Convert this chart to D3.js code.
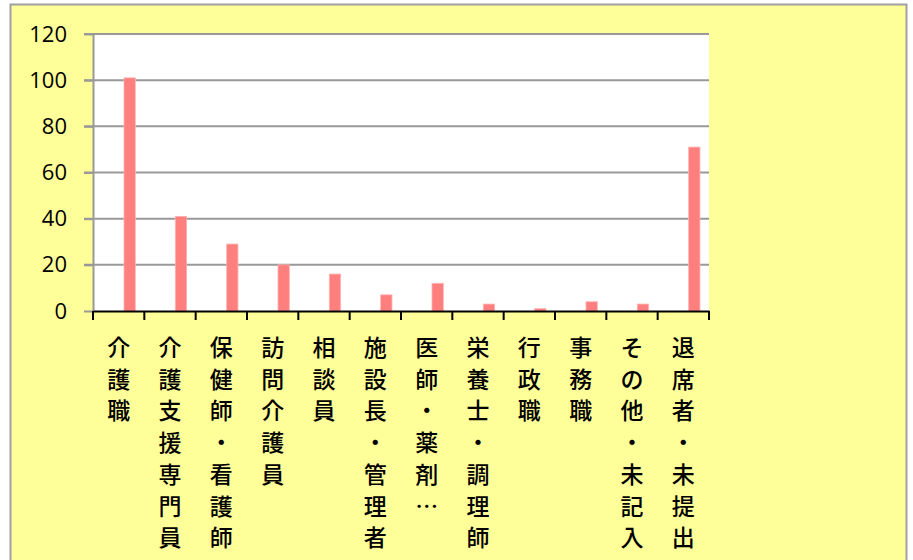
<!DOCTYPE html>
<html>
<head>
<meta charset="utf-8">
<script src="https://cdn.jsdelivr.net/npm/d3@7"></script>
<style>
  body { margin: 0; background: #fff; }
  svg { display: block; }
</style>
</head>
<body>
<svg id="chart" width="913" height="560"></svg>
<script>
const categories = ["介護職", "介護支援専門員", "保健師・看護師", "訪問介護員", "相談員", "施設長・管理者",
  "医師・薬剤…", "栄養士・調理師", "行政職", "事務職", "その他・未記入", "退席者・未提出"];
const values = [101, 41, 29, 20, 16, 7, 12, 3, 1, 4, 3, 71];
const yTicks = [0, 20, 40, 60, 80, 100, 120];

const plot = { left: 93, right: 709, top: 34, bottom: 311 };

const svg = d3.select("#chart");

// chart area background + border
svg.append("rect")
  .attr("x", 10.5).attr("y", 4.5)
  .attr("width", 896).attr("height", 600)
  .attr("fill", "#ffff99")
  .attr("stroke", "#a0a0a0").attr("stroke-width", 2);

svg.append("rect")
  .attr("x", plot.left).attr("y", plot.top)
  .attr("width", plot.right - plot.left).attr("height", plot.bottom - plot.top)
  .attr("fill", "#fff");

const xscale = d3.scaleBand()
  .domain(categories)
  .range([plot.left, plot.right])
  .padding(0);

const yscale = d3.scaleLinear()
  .domain([0, 120])
  .range([plot.bottom, plot.top]);

// gridlines
svg.append("g")
  .selectAll("line")
  .data(yTicks.filter(d => d > 0))
  .enter()
  .append("line")
  .attr("x1", plot.left - 9)
  .attr("x2", plot.right)
  .attr("y1", d => yscale(d))
  .attr("y2", d => yscale(d))
  .attr("stroke", "#999")
  .attr("stroke-width", 2);

// y axis
const yAxis = d3.axisLeft(yscale).tickValues(yTicks).tickSize(9).tickSizeOuter(0).tickPadding(17);
const gy = svg.append("g")
  .attr("transform", `translate(${plot.left}, 0)`)
  .call(yAxis);
gy.select(".domain").attr("stroke", "#999").attr("stroke-width", 2);
gy.selectAll(".tick line").attr("stroke", "#999").attr("stroke-width", 2);
gy.selectAll("text")
  .attr("font-family", "'Open Sans', sans-serif")
  .attr("font-size", 22)
  .attr("fill", "#000");

// bars
const bw = xscale.bandwidth();
svg.append("g")
  .selectAll("rect")
  .data(values)
  .enter()
  .append("rect")
  .attr("x", (d, i) => xscale(categories[i]) + bw * 0.604)
  .attr("width", bw * 0.22)
  .attr("y", d => yscale(d))
  .attr("height", d => yscale(0) - yscale(d))
  .attr("fill", "#ff7f7f")
  .attr("stroke", "#ffb0b0")
  .attr("stroke-width", 0.8);

// x axis
const xAxis = d3.axisBottom(xscale).tickSize(0).tickFormat("");
const gx = svg.append("g")
  .attr("transform", `translate(0, ${plot.bottom})`)
  .call(xAxis);
gx.select(".domain").attr("stroke", "#000").attr("stroke-width", 2);

const boundaries = categories.map(c => xscale(c)).concat([plot.right]);
svg.append("g")
  .selectAll("line")
  .data(boundaries)
  .enter()
  .append("line")
  .attr("x1", d => d).attr("x2", d => d)
  .attr("y1", plot.bottom).attr("y2", plot.bottom + 9)
  .attr("stroke", "#000").attr("stroke-width", 2);

// vertical category labels, one character per line
const labels = svg.append("g")
  .attr("font-family", "'Noto Sans CJK JP', sans-serif")
  .attr("font-size", 23)
  .attr("font-weight", 500)
  .attr("fill", "#000");

categories.forEach(c => {
  const cx = xscale(c) + bw / 2;
  Array.from(c).forEach((ch, k) => {
    labels.append("text")
      .attr("x", cx)
      .attr("y", 346 + k * 31.7)
      .attr("text-anchor", "middle")
      .attr("dominant-baseline", "central")
      .text(ch);
  });
});
</script>
</body>
</html>
